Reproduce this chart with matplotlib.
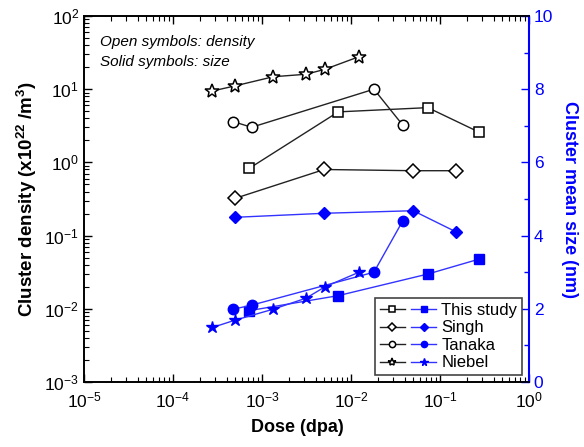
import matplotlib
matplotlib.use("Agg")
import matplotlib.pyplot as plt
from matplotlib.legend_handler import HandlerTuple
from matplotlib.ticker import LogLocator, MultipleLocator

plt.rcParams['font.family'] = ['Liberation Sans', 'DejaVu Sans']
plt.rcParams['mathtext.fontset'] = 'custom'
plt.rcParams['mathtext.rm'] = 'Liberation Sans'
plt.rcParams['mathtext.bf'] = 'Liberation Sans:bold'

# Density (open symbols, left axis)
study_dose = [7.2e-4, 7.2e-3, 7.3e-2, 0.277]
study_dens = [0.83, 4.9, 5.6, 2.58]
singh_dose = [5.0e-4, 5.0e-3, 0.05, 0.152]
singh_dens = [0.323, 0.80, 0.77, 0.77]
tanaka_dose = [4.77e-4, 7.65e-4, 1.81e-2, 3.81e-2]
tanaka_dens = [3.6, 3.02, 10.0, 3.24]
niebel_dose = [2.77e-4, 4.98e-4, 1.34e-3, 3.12e-3, 5.1e-3, 1.23e-2]
niebel_dens = [9.45, 11.1, 14.8, 16.0, 18.7, 27.8]

# Mean size (solid symbols, right axis)
study_size = [1.95, 2.36, 2.95, 3.36]
singh_size = [4.50, 4.61, 4.68, 4.10]
tanaka_size = [1.99, 2.10, 3.0, 4.40]
niebel_size = [1.49, 1.69, 1.99, 2.29, 2.60, 3.0]

labels = ['This study', 'Singh', 'Tanaka', 'Niebel']
markers = ['s', 'D', 'o', '*']

fig = plt.figure(figsize=(5.84, 4.47), dpi=100)
ax = fig.add_axes([0.1438, 0.1454, 0.7620, 0.8188])
ax2 = ax.twinx()

blue = '#0000FF'
black = '#222222'
doses = [study_dose, singh_dose, tanaka_dose, niebel_dose]
dens = [study_dens, singh_dens, tanaka_dens, niebel_dens]
sizes = [study_size, singh_size, tanaka_size, niebel_size]
msz = {'s': 6.5, 'D': 6.5, 'o': 7.5, '*': 9}
msz_open = {'s': 7, 'D': 7.5, 'o': 7.5, '*': 10}

handles = []
for d, y, s, m, lab in zip(doses, dens, sizes, markers, labels):
    h1, = ax.plot(d, y, marker=m, color=black, mfc='white', mec='black',
                  ms=msz_open[m], lw=1, mew=1.1)
    h2, = ax2.plot(d, s, marker=m, color='#3333FF', mfc=blue, mec=blue,
                   ms=msz[m], lw=1)
    handles.append((h1, h2))

ax.set_xscale('log')
ax.set_yscale('log')
ax.set_xlim(1e-5, 1)
ax.set_ylim(1e-3, 1e2)
ax2.set_ylim(0, 10)
ax2.yaxis.set_major_locator(MultipleLocator(2))
ax2.yaxis.set_minor_locator(MultipleLocator(1))

ax.xaxis.set_major_locator(LogLocator(base=10, numticks=10))
ax.xaxis.set_minor_locator(LogLocator(base=10, subs=range(2, 10), numticks=20))
ax.yaxis.set_major_locator(LogLocator(base=10, numticks=10))
ax.yaxis.set_minor_locator(LogLocator(base=10, subs=range(2, 10), numticks=20))

ax.tick_params(axis='both', which='both', direction='in', top=True, right=False,
               labelsize=12.5, colors='black')
ax.tick_params(axis='both', which='major', length=6, width=1)
ax.tick_params(axis='both', which='minor', length=3.5, width=0.8)
ax.tick_params(axis='x', pad=6)
ax2.tick_params(axis='y', which='both', direction='in', colors=blue, labelsize=12.5)
ax2.tick_params(axis='y', which='major', length=6, width=1)
ax2.tick_params(axis='y', which='minor', length=3.5, width=1)
for sp in ax.spines.values():
    sp.set_linewidth(1.2)
for name, sp in ax2.spines.items():
    sp.set_linewidth(1.2)
ax2.spines['right'].set_color(blue)
ax2.spines['right'].set_linewidth(1.5)

ax.set_xlabel('Dose (dpa)', fontsize=13, fontweight='bold', labelpad=10)
ax.xaxis.set_label_coords(0.48, -0.1)
ax.set_ylabel('Cluster density (x10$^{\\mathbf{22}}$ /m$^{\\mathbf{3}}$)', fontsize=13.5,
              fontweight='bold', labelpad=4)
ax2.set_ylabel('Cluster mean size (nm)', fontsize=13, fontweight='bold',
               color=blue, rotation=270, labelpad=18)

ax.text(0.036, 0.93, 'Open symbols: density', transform=ax.transAxes,
        fontsize=11, style='italic', va='center')
ax.text(0.036, 0.875, 'Solid symbols: size', transform=ax.transAxes,
        fontsize=11, style='italic', va='center')

leg = ax2.legend(handles, labels, loc='lower right', fontsize=12,
                 handler_map={tuple: HandlerTuple(ndivide=None, pad=0.4)},
                 handlelength=3.4, handletextpad=0.3, labelspacing=0.15,
                 borderpad=0.3, fancybox=False, framealpha=1, markerscale=0.6,
                 edgecolor='#444444', borderaxespad=0.4)
leg.get_frame().set_linewidth(1.2)

fig.savefig('out.png', dpi=100)
